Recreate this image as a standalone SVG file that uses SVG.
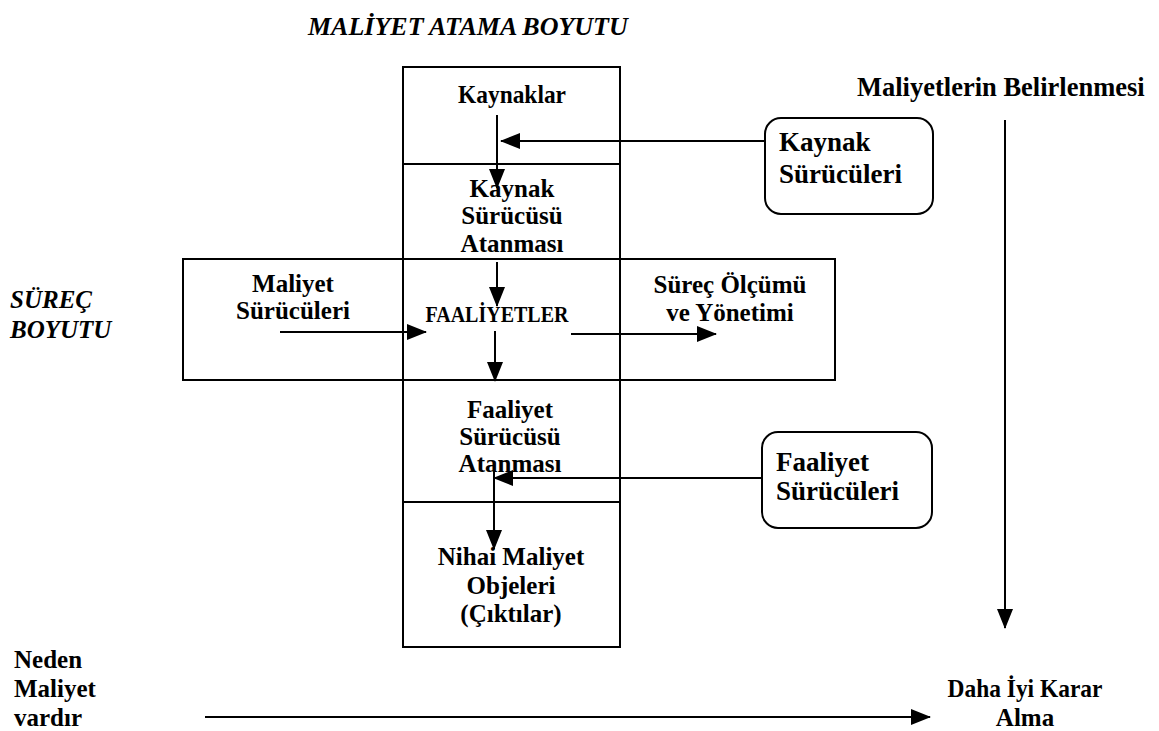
<svg xmlns="http://www.w3.org/2000/svg" width="1159" height="731" viewBox="0 0 1159 731">
<style>
text{font-family:"Liberation Serif","Times New Roman",serif;font-weight:bold;font-size:25px;fill:#000}
.c{text-anchor:middle}
.i{font-style:italic}
.big{font-size:27px}
.box{fill:none;stroke:#000;stroke-width:2}
.ln{fill:none;stroke:#000;stroke-width:2}
</style>
<defs>
<marker id="ah" markerUnits="userSpaceOnUse" markerWidth="20" markerHeight="16" refX="19" refY="8" orient="auto">
<path d="M0,0 L20,8 L0,16 Z" fill="#000"/>
</marker>
</defs>
<rect width="1159" height="731" fill="#fff"/>
<g id="title"><text class="i" x="308" y="35" style="font-size:26px">MALİYET ATAMA BOYUTU</text></g>
<g id="maliyetlerin"><text x="857" y="96" style="font-size:26.5px">Maliyetlerin Belirlenmesi</text></g>
<g id="surec-boyutu"><text class="i" x="10" y="308">SÜREÇ</text><text class="i" x="10" y="338">BOYUTU</text></g>
<g id="process-box"><rect class="box" x="183" y="259" width="652" height="121"/></g>
<g id="column">
<rect class="box" x="403" y="67" width="217" height="580"/>
<line class="ln" x1="403" y1="164" x2="620" y2="164"/>
<line class="ln" x1="403" y1="502" x2="620" y2="502"/>
</g>
<g id="kaynaklar"><text class="c" x="512" y="103" textLength="108" lengthAdjust="spacingAndGlyphs">Kaynaklar</text></g>
<g id="kaynak-atama"><text class="c" x="512" y="197">Kaynak</text><text class="c" x="512" y="224">Sürücüsü</text><text class="c" x="512" y="252">Atanması</text></g>
<g id="faaliyetler"><text class="c" x="497" y="322" style="font-size:24px" textLength="143" lengthAdjust="spacingAndGlyphs">FAALİYETLER</text></g>
<g id="maliyet-suruculeri"><text class="c" x="293" y="292">Maliyet</text><text class="c" x="293" y="319">Sürücüleri</text></g>
<g id="surec-olcumu"><text class="c" x="730" y="293">Süreç Ölçümü</text><text class="c" x="730" y="321">ve Yönetimi</text></g>
<g id="faaliyet-atama"><text class="c" x="510" y="418">Faaliyet</text><text class="c" x="510" y="445">Sürücüsü</text><text class="c" x="510" y="472">Atanması</text></g>
<g id="nihai"><text class="c" x="511" y="565">Nihai Maliyet</text><text class="c" x="511" y="594">Objeleri</text><text class="c" x="511" y="622">(Çıktılar)</text></g>
<g id="kaynak-suruculeri"><rect class="box" x="765" y="118" width="168" height="96" rx="16"/><text class="big" x="779" y="151">Kaynak</text><text class="big" x="779" y="183">Sürücüleri</text></g>
<g id="faaliyet-suruculeri"><rect class="box" x="762" y="432" width="170" height="96" rx="16"/><text class="big" x="776" y="471">Faaliyet</text><text class="big" x="776" y="500">Sürücüleri</text></g>
<g id="neden"><text x="14" y="668">Neden</text><text x="14" y="697">Maliyet</text><text x="14" y="726">vardır</text></g>
<g id="daha-iyi"><text class="c" x="1025" y="697" textLength="155" lengthAdjust="spacingAndGlyphs">Daha İyi Karar</text><text class="c" x="1025" y="726">Alma</text></g>
<g id="connectors">
<line class="ln" x1="765" y1="141" x2="501" y2="141" marker-end="url(#ah)"/>
<line class="ln" x1="497" y1="115" x2="497" y2="188" marker-end="url(#ah)"/>
<line class="ln" x1="497" y1="262" x2="497" y2="306" marker-end="url(#ah)"/>
<line class="ln" x1="280" y1="332" x2="426" y2="332" marker-end="url(#ah)"/>
<line class="ln" x1="571" y1="334" x2="716" y2="334" marker-end="url(#ah)"/>
<line class="ln" x1="495" y1="331" x2="495" y2="381" marker-end="url(#ah)"/>
<line class="ln" x1="762" y1="478" x2="494" y2="478" marker-end="url(#ah)"/>
<line class="ln" x1="494" y1="462" x2="494" y2="549" marker-end="url(#ah)"/>
<line class="ln" x1="1005" y1="120" x2="1005" y2="628" marker-end="url(#ah)"/>
<line class="ln" x1="205" y1="717" x2="930" y2="717" marker-end="url(#ah)"/>
</g>
</svg>
